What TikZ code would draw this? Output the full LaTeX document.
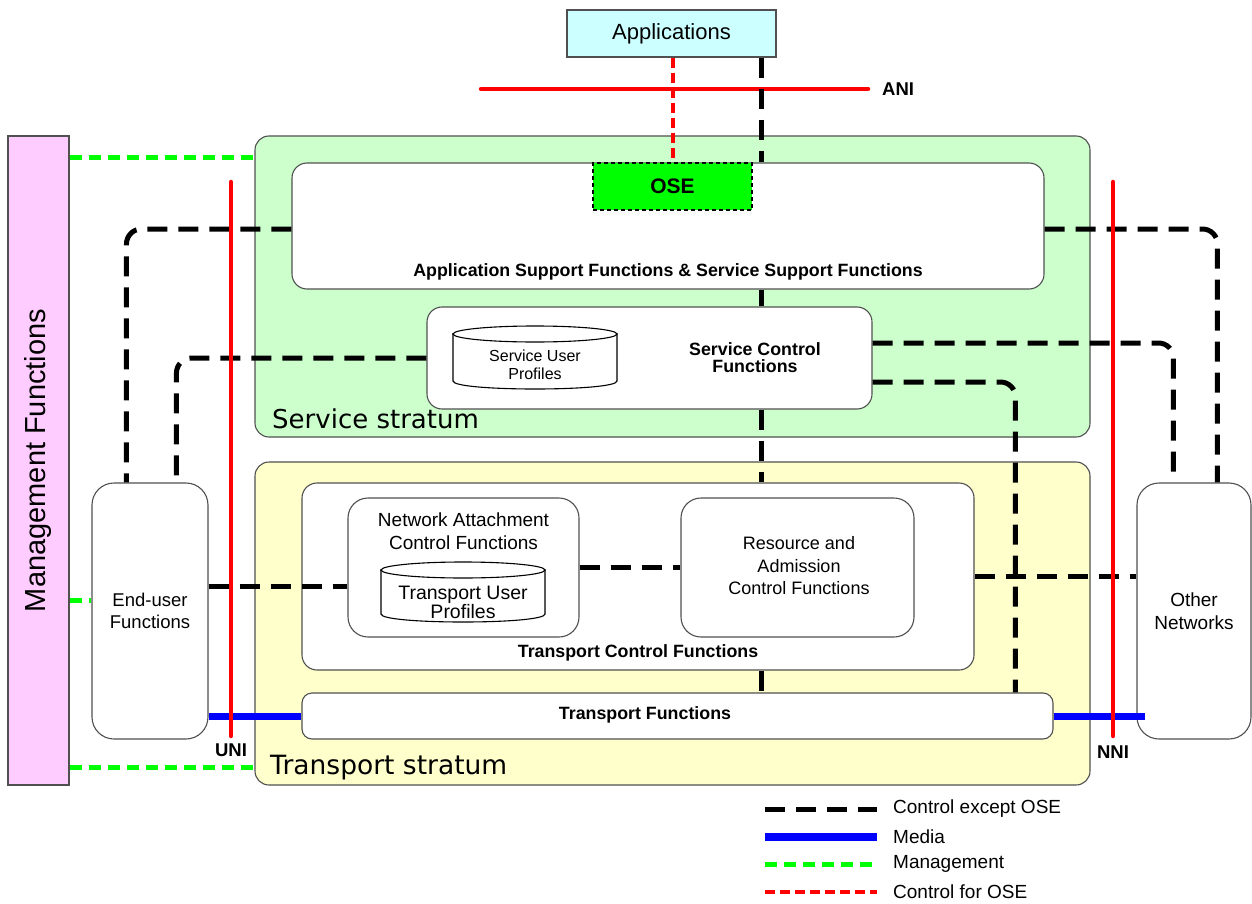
\documentclass[tikz,border=0pt]{standalone}
\usepackage{fontspec}
\setmainfont{Liberation Sans}
\newfontfamily\stratumfont{DejaVu Sans}
\usetikzlibrary{calc}

\definecolor{appcyan}{RGB}{204,255,255}
\definecolor{mgmtpink}{RGB}{255,204,255}
\definecolor{svcgreen}{RGB}{204,255,204}
\definecolor{trnyellow}{RGB}{255,255,204}
\definecolor{osegreen}{RGB}{0,255,0}
\definecolor{edge}{RGB}{80,80,80}

% profile store drawn as a drum: left x, right x, top y, bottom y
\newcommand{\profiledrum}[4]{%
  \filldraw[draw=black, fill=white, line width=1.1pt]
    (#1,#3+8) -- (#1,#4-8) .. controls (#1,#4+2.67) and (#2,#4+2.67) .. (#2,#4-8)
    -- (#2,#3+8) -- cycle;
  \draw[fill=white, line width=1.1pt] ({(#1+#2)/2},#3+8) ellipse [x radius={(#2-#1)/2}, y radius=8];
}

\begin{document}
\begin{tikzpicture}[x=1pt, y=-1pt,
  frame/.style={draw=edge, line width=1.1pt, inner sep=0pt},
  rbox/.style={frame, fill=white, rounded corners=15pt, align=center},
  ctl/.style={line width=5pt, dash pattern=on 20pt off 11pt, black},
  mgmtline/.style={line width=5pt, dash pattern=on 12pt off 7pt, osegreen},
  oseline/.style={line width=4pt, dash pattern=on 10pt off 5pt, red},
  media/.style={line width=7pt, blue},
  iface/.style={line width=4.5pt, red, line cap=round},
  lbl/.style={inner sep=0pt, align=center},
  boldlbl/.style={lbl, font={\fontsize{17.8}{17}\selectfont\bfseries}},
  ifacelbl/.style={lbl, font={\fontsize{18.5}{20}\selectfont\bfseries}},
  legendtext/.style={lbl, anchor=west, font={\fontsize{19}{21}\selectfont}},
]
\useasboundingbox (0,0) rectangle (1252,904);

% strata, management and applications
\node[frame, fill=svcgreen, rounded corners=14pt, minimum width=835pt, minimum height=301pt] (svc) at (672.5,286.5) {};
\node[frame, fill=trnyellow, rounded corners=14pt, minimum width=835pt, minimum height=323pt] (trn) at (672.5,623.5) {};
\node[frame, fill=mgmtpink, minimum width=61pt, minimum height=649pt] (mgmt) at (38.5,460.5) {};
\node[rotate=90, font={\fontsize{29}{31}\selectfont}] (mgmttext) at (mgmt.center) {Management Functions};
\node[frame, fill=appcyan, minimum width=209pt, minimum height=47pt, font={\fontsize{22}{24}\selectfont}] (apps) at (671.5,33.5) {Applications};

\node[lbl, anchor=base west, font={\stratumfont\fontsize{26}{28}\selectfont}] (svclabel) at (272,428) {Service stratum};
\node[lbl, anchor=base west, font={\stratumfont\fontsize{26.5}{28}\selectfont}] (trnlabel) at (270,774) {Transport stratum};

% service stratum functions
\node[rbox, minimum width=752pt, minimum height=126pt] (asf) at (668,226) {};
\node[boldlbl] (asflabel) at (668,272) {Application Support Functions \& Service Support Functions};
\node[frame, draw=black, fill=osegreen, dash pattern=on 4pt off 3pt, minimum width=159pt, minimum height=47pt,
      font={\fontsize{21}{23}\selectfont\bfseries}] (ose) at (672.5,186.5) {OSE};
\node[rbox, minimum width=445pt, minimum height=102pt] (scf) at (649.5,358) {};
\profiledrum{453}{617}{326}{389}
\node[lbl, font={\fontsize{16}{18}\selectfont}] (suplabel) at (535,365) {Service User\\Profiles};
\node[boldlbl] (scflabel) at (755,357.5) {Service Control\\Functions};

% transport stratum functions
\node[rbox, minimum width=672pt, minimum height=187pt] (tcf) at (638,576.5) {};
\node[boldlbl] (tcflabel) at (638,653) {Transport Control Functions};
\node[rbox, rounded corners=20pt, minimum width=231pt, minimum height=139pt] (nacf) at (463.5,567.5) {};
\node[lbl, font={\fontsize{19}{23}\selectfont}] (nacflabel) at (463.5,531.5) {Network Attachment\\Control Functions};
\profiledrum{381}{545}{562}{622}
\node[lbl, font={\fontsize{19.5}{18}\selectfont}] (tuplabel) at (463,602) {Transport User\\Profiles};
\node[rbox, rounded corners=20pt, minimum width=233pt, minimum height=139pt] (racf) at (797.5,567.5) {};
\node[lbl, font={\fontsize{18}{22.5}\selectfont}] (racflabel) at (799,566) {Resource and\\Admission\\Control Functions};
\node[rbox, rounded corners=10pt, minimum width=751pt, minimum height=46pt] (tf) at (677.5,716) {};
\node[boldlbl] (tflabel) at (645,715) {Transport Functions};

% end-user side and peer networks
\node[rbox, rounded corners=22pt, minimum width=116pt, minimum height=256pt, font={\fontsize{18.5}{22}\selectfont}] (eu) at (150,611) {End-user\\Functions};
\node[rbox, rounded corners=22pt, minimum width=114pt, minimum height=256pt, font={\fontsize{19}{23}\selectfont}] (on) at (1194,611) {Other\\Networks};

% application-network interface
\coordinate (anil) at (481,89);
\coordinate (anir) at (868,89);
\draw[iface] (anil) -- (anir);
\node[ifacelbl, anchor=west] (anilabel) at ($(anir)+(14,0)$) {ANI};

% control links for OSE
\draw[oseline] (ose.north |- apps.south) -- (ose.north);

% control links except OSE
\coordinate (spine) at (761,0);
\draw[ctl] (apps.south -| spine) -- (asf.north -| spine);
\draw[ctl] (asf.south -| spine) -- (scf.north -| spine);
\draw[ctl] (scf.south -| spine) -- (tcf.north -| spine);
\draw[ctl] (tcf.south -| spine) -- (tf.north -| spine);
\draw[ctl, rounded corners=15pt] ($(asf.west)+(0,3)$) -| ($(eu.north west)+(35,0)$);
\draw[ctl, rounded corners=15pt] (scf.west) -| ($(eu.north west)+(85,0)$);
\draw[ctl, rounded corners=15pt] ($(asf.east)+(0,3)$) -| ($(on.north west)+(81,0)$);
\draw[ctl, rounded corners=15pt] ($(scf.east)+(0,-15)$) -| ($(on.north west)+(37,0)$);
\draw[ctl, rounded corners=15pt] ($(scf.east)+(0,24)$) -| ($(tf.north west)+(714,0)$);
\coordinate (eulink) at ($(eu.east)+(0,-25)$);
\draw[ctl] (eulink) -- (eulink -| nacf.west);
\draw[ctl] (nacf.east) -- (racf.west);
\draw[ctl] (tcf.east) -- (tcf.east -| on.west);

% management links
\draw[mgmtline] ($(mgmt.north east)+(0,22)$) -- ($(svc.north west)+(0,22)$);
\coordinate (eumg) at ($(eu.west)+(0,-11)$);
\draw[mgmtline] (eumg -| mgmt.east) -- (eumg);
\draw[mgmtline] ($(mgmt.south east)+(0,-18)$) -- ($(trn.south west)+(0,-18)$);

% media path
\draw[media] (tf.west -| eu.east) -- (tf.west);
\draw[media] (tf.east) -- ($(tf.east -| on.west)+(9,0)$);

% user-network and network-network interfaces
\coordinate (unitop) at (231,182);
\coordinate (unibot) at (231,736);
\draw[iface] (unitop) -- (unibot);
\node[ifacelbl] (unilabel) at ($(unibot)+(0,14)$) {UNI};
\coordinate (nnitop) at (1113,182);
\coordinate (nnibot) at (1113,736);
\draw[iface] (nnitop) -- (nnibot);
\node[ifacelbl] (nnilabel) at ($(nnibot)+(0,16)$) {NNI};

% legend
\coordinate (lgA) at (765,809); \coordinate (lgB) at (877,809);
\draw[ctl] (lgA) -- (lgB);
\node[legendtext] (lgtA) at (893,809) {Control except OSE};
\coordinate (lgC) at (765,837); \coordinate (lgD) at (877,837);
\draw[line width=8pt, blue] (lgC) -- (lgD);
\node[legendtext] (lgtB) at (893,837) {Media};
\coordinate (lgE) at (765,864); \coordinate (lgF) at (877,864);
\draw[mgmtline] (lgE) -- (lgF);
\node[legendtext] (lgtC) at (893,864) {Management};
\coordinate (lgG) at (765,892); \coordinate (lgH) at (877,892);
\draw[oseline] (lgG) -- (lgH);
\node[legendtext] (lgtD) at (893,892) {Control for OSE};
\end{tikzpicture}
\end{document}
